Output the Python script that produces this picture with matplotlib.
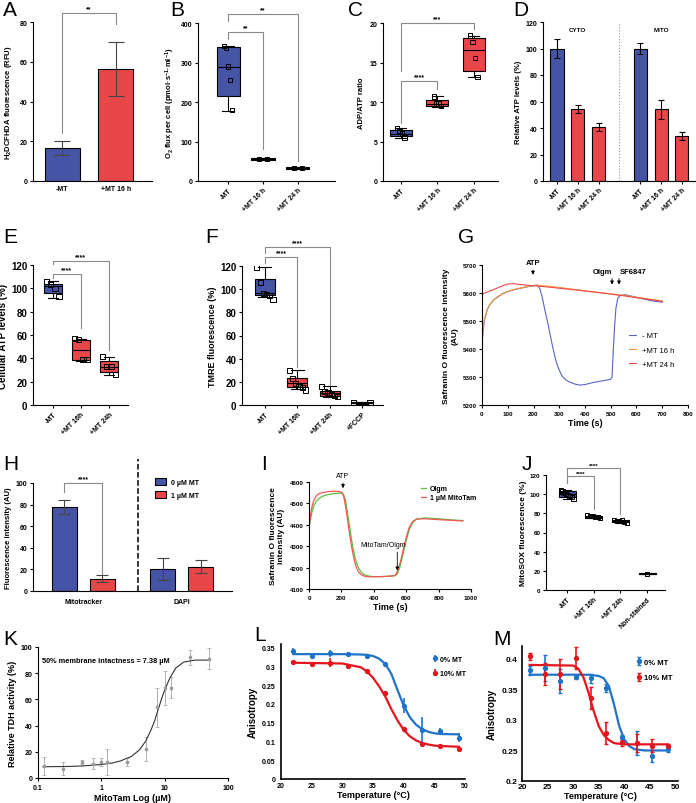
import numpy as np
import matplotlib.pyplot as plt
from matplotlib.ticker import FuncFormatter, NullLocator
from matplotlib.patches import Patch

plt.rcParams['font.family'] = ['Liberation Sans', 'DejaVu Sans']
plt.rcParams['font.weight'] = 'bold'
plt.rcParams['axes.labelweight'] = 'bold'
plt.rcParams['mathtext.default'] = 'regular'
plt.rcParams['axes.linewidth'] = 0.8

BLUE = '#4654a6'
RED = '#e8474a'

# ---- A: H2DCFHDA fluorescence
A_groups = ['-MT', '+MT 16 h']
A_mean = [16.5, 56.5]
A_err = [3.5, 13.5]

# ---- B: O2 flux boxes (q1, med, q3, whislo, whishi)
B_groups = ['-MT', '+MT 16 h', '+MT 24 h']
B_stats = [(215, 288, 338, 178, 341), (53, 55, 57, 53, 57), (31, 33, 35, 31, 35)]
B_points = [[342, 337, 290, 256, 180], [55, 55], [33, 33]]

# ---- C: ADP/ATP ratio
C_groups = ['-MT', '+MT 16 h', '+MT 24 h']
C_stats = [(5.7, 6.0, 6.5, 5.5, 6.7), (9.5, 9.8, 10.3, 9.4, 10.7), (13.9, 16.6, 18.1, 13.2, 18.4)]
C_points = [[6.7, 6.3, 6.0, 5.5], [10.7, 9.8, 9.8, 9.5], [18.4, 17.6, 15.6, 13.2]]

# ---- D: relative ATP levels
D_groups = ['-MT', '+MT 16 h', '+MT 24 h']
D_cyto = [100, 54, 41]
D_cyto_err = [7, 3, 3]
D_mito = [100, 54, 34]
D_mito_err = [4.5, 7, 3]

# ---- E: cellular ATP levels
E_groups = ['-MT', '+MT 16h', '+MT 24h']
E_stats = [(96, 102, 104, 92, 106), (38.5, 47, 56, 38, 57), (28, 32.7, 38, 26, 41.5)]
E_points = [[106, 103, 100, 93], [57, 56, 39, 39], [41.5, 32.7, 32.7, 26]]

# ---- F: TMRE fluorescence
F_groups = ['-MT', '+MT 16h', '+MT 24h', '+FCCP']
F_stats = [(95, 97, 108.5, 93, 119), (15.5, 19, 23.4, 14, 30), (8, 10, 12.3, 7, 16), (1.5, 2, 2.5, 1, 3)]
F_points = [[118.6, 105.7, 96.3, 95.7, 94.3, 91.4], [30, 22.9, 18.6, 16.3, 15.1, 12.9],
            [16, 12, 10.5, 9, 8, 7.5], [2, 2]]

# ---- G: safranin O traces
G_t_mt = [0, 5, 10, 20, 30, 45, 60, 80, 100, 125, 150, 175, 200, 215, 225, 235, 245, 255, 265, 275,
          285, 295, 310, 325, 340, 360, 380, 400, 430, 460, 490, 500, 505, 510, 515, 520, 527, 535,
          555, 575, 600, 630, 660, 700]
G_mt = [5420, 5470, 5505, 5540, 5558, 5575, 5585, 5597, 5605, 5612, 5617, 5622, 5626, 5628, 5615,
        5580, 5535, 5495, 5450, 5405, 5365, 5335, 5305, 5290, 5282, 5275, 5271, 5273, 5280, 5285,
        5290, 5292, 5300, 5400, 5480, 5545, 5580, 5590, 5594, 5590, 5585, 5578, 5572, 5567]
G_t_16 = [0, 5, 10, 20, 30, 45, 60, 80, 100, 125, 150, 175, 200, 215, 250, 300, 350, 400, 450,
          500, 550, 600, 650, 700]
G_16 = [5435, 5480, 5510, 5540, 5558, 5575, 5587, 5598, 5606, 5613, 5618, 5623, 5627, 5628, 5625,
        5620, 5614, 5608, 5602, 5597, 5592, 5585, 5578, 5572]
G_t_24 = [0, 10, 20, 30, 45, 60, 80, 100, 125, 150, 175, 200, 250, 300, 350, 400, 450, 500, 550,
          600, 650, 700]
G_24 = [5595, 5600, 5603, 5607, 5612, 5618, 5626, 5632, 5633, 5630, 5628, 5626, 5622, 5617, 5612,
        5607, 5602, 5596, 5590, 5583, 5577, 5570]

# ---- H: fluorescence intensity
H_groups = ['Mitotracker', 'DAPI']
H_mito = [78, 11.5]
H_mito_err = [6.5, 3]
H_dapi = [20.5, 22.5]
H_dapi_err = [10, 6]

# ---- I: safranin O traces
I_t = [0, 10, 20, 30, 45, 60, 80, 100, 130, 160, 190, 205, 215, 225, 235, 245, 255, 265, 275, 290,
       305, 320, 340, 370, 400, 450, 500, 530, 545, 560, 575, 590, 605, 620, 640, 660, 690, 720,
       760, 800, 850, 900, 950]
I_olgm = [4385, 4430, 4465, 4490, 4510, 4522, 4532, 4538, 4543, 4546, 4548, 4547, 4540, 4515, 4470,
          4420, 4370, 4320, 4280, 4230, 4200, 4180, 4167, 4160, 4158, 4158, 4160, 4162, 4170, 4200,
          4245, 4295, 4340, 4380, 4410, 4425, 4430, 4432, 4430, 4428, 4425, 4422, 4420]
I_mitotam = [4390, 4450, 4490, 4515, 4535, 4545, 4550, 4553, 4556, 4557, 4555, 4550, 4530, 4490,
             4440, 4385, 4335, 4290, 4250, 4205, 4180, 4168, 4160, 4157, 4157, 4158, 4160, 4163,
             4180, 4215, 4260, 4310, 4355, 4390, 4415, 4425, 4428, 4428, 4426, 4424, 4422, 4420, 4418]

# ---- J: MitoSOX fluorescence
J_groups = ['-MT', '+MT 16h', '+MT 24h', 'Non-stained']
J_stats = [(97.5, 100, 103, 95, 104), (75.5, 76.5, 77.5, 75, 78), (70.5, 72, 73, 70, 73.5), (16.5, 17, 17.5, 16.5, 17.5)]
J_points = [[104, 103, 101, 100, 99, 98, 97, 95], [78, 77, 77, 76, 76, 75],
            [73, 72, 72, 72.5, 71, 70], [17]]

# ---- K: TDH activity vs MitoTam
K_conc = [0.125, 0.25, 0.5, 0.75, 1, 1.25, 2.5, 5, 7.5, 10, 12.5, 25, 50]
K_act = [9, 7, 12.5, 11, 12.5, 12, 12, 22, 54, 69, 69, 92, 91]
K_err = [7, 5, 1.5, 4.5, 3, 10, 3, 9, 15, 13, 8, 6, 8]
K_fit_x = [0.12, 0.3, 0.5, 1, 1.5, 2, 3, 4, 5, 6, 7, 7.38, 8, 9, 10, 12, 15, 20, 30, 50]
K_fit_y = [8.6, 8.8, 9.2, 10.3, 11.5, 13, 16.5, 21.5, 28, 36, 44, 48, 53, 61, 67, 76, 84, 88.5, 90, 90]

# ---- L / M: anisotropy vs temperature
L_temp = [22, 25, 28, 31, 34, 37, 40, 43, 46, 49]
L_0 = [0.341, 0.328, 0.335, 0.333, 0.328, 0.307, 0.196, 0.131, 0.129, 0.110]
L_0_err = [0.008, 0.005, 0.010, 0.006, 0.006, 0.004, 0.020, 0.035, 0.008, 0.012]
L_10 = [0.312, 0.307, 0.310, 0.302, 0.288, 0.230, 0.134, 0.094, 0.087, 0.080]
L_10_err = [0.004, 0.003, 0.012, 0.005, 0.004, 0.005, 0.005, 0.005, 0.003, 0.003]
L_fit_x = [22, 30, 33, 34, 35, 36, 37, 38, 39, 40, 41, 42, 43, 44, 45, 46, 49]
L_fit_0 = [0.333, 0.333, 0.332, 0.331, 0.328, 0.321, 0.307, 0.280, 0.237, 0.196, 0.165, 0.145,
           0.133, 0.126, 0.122, 0.120, 0.119]
L_fit_10 = [0.310, 0.308, 0.298, 0.287, 0.270, 0.247, 0.220, 0.186, 0.156, 0.131, 0.114, 0.103,
            0.096, 0.092, 0.089, 0.088, 0.086]

M_temp = [21.5, 24.5, 27.5, 30.5, 33.5, 36.5, 39.5, 42.5, 45.5, 48.5]
M_0 = [0.381, 0.385, 0.364, 0.370, 0.368, 0.352, 0.272, 0.262, 0.241, 0.252]
M_0_err = [0.008, 0.022, 0.020, 0.003, 0.007, 0.006, 0.004, 0.020, 0.010, 0.004]
M_10 = [0.404, 0.375, 0.375, 0.402, 0.336, 0.278, 0.264, 0.262, 0.258, 0.257]
M_10_err = [0.006, 0.018, 0.025, 0.018, 0.018, 0.018, 0.006, 0.015, 0.010, 0.004]
M_fit_x = [21.5, 30, 31, 32, 33, 34, 35, 36, 37, 38, 39, 40, 41, 42, 44, 48.5]
M_fit_0 = [0.374, 0.374, 0.374, 0.374, 0.374, 0.373, 0.372, 0.368, 0.355, 0.325, 0.290, 0.268,
           0.257, 0.252, 0.250, 0.250]
M_fit_10 = [0.390, 0.389, 0.384, 0.370, 0.345, 0.315, 0.290, 0.275, 0.267, 0.262, 0.261, 0.260,
            0.260, 0.260, 0.260, 0.260]

W, H = 696, 804
fig = plt.figure(figsize=(W / 100, H / 100), dpi=100)


def panel(l, t, r, b, size=5):
    ax = fig.add_axes([l / W, 1 - b / H, (r - l) / W, (b - t) / H])
    ax.spines[['top', 'right']].set_visible(False)
    ax.tick_params(labelsize=size, width=0.8, length=2.5, pad=1.5)
    return ax


def letter(x, y, s):
    fig.text(x / W, 1 - y / H, s, fontsize=15, fontweight='normal', va='baseline', ha='left')


def bracket(ax, x1, x2, y, y1, y2, text='****', size=5):
    ax.plot([x1, x1, x2, x2], [y1, y, y, y2], color='#8a8a8a', lw=0.8, clip_on=False)
    ax.annotate(text, xy=((x1 + x2) / 2, y), xytext=(0, 0.3), textcoords='offset points',
                ha='center', va='bottom', fontsize=size, annotation_clip=False)


def boxes(ax, stats, points, colors, width, capw, spread, msize=10):
    st = [dict(q1=a, med=m, q3=b, whislo=lo, whishi=hi, fliers=[]) for a, m, b, lo, hi in stats]
    pos = list(range(len(stats)))
    art = ax.bxp(st, positions=pos, widths=width, patch_artist=True, showfliers=False,
                 capwidths=capw, manage_ticks=False,
                 boxprops=dict(lw=0.8, edgecolor='black'),
                 medianprops=dict(color='black', lw=0.8),
                 whiskerprops=dict(color='black', lw=0.8),
                 capprops=dict(color='black', lw=0.8))
    for patch, c in zip(art['boxes'], colors):
        patch.set_facecolor(c)
    for i, pts in enumerate(points):
        n = len(pts)
        off = np.linspace(-spread, spread, n) if n > 1 else np.zeros(1)
        ax.scatter(i + off, pts, marker='s', s=msize, facecolor='none', edgecolor='black',
                   lw=0.7, zorder=3)


def rot_labels(ax, labels, size):
    ax.set_xticks(range(len(labels)))
    ax.set_xticklabels(labels, rotation=45, ha='right', rotation_mode='anchor', fontsize=size)


# ================= A
ax = panel(33, 23, 152, 182)
ax.bar(range(2), A_mean, width=0.65, color=[BLUE, RED], edgecolor='black', lw=0.8)
ax.errorbar(range(2), A_mean, yerr=A_err, fmt='none', ecolor='#444444', elinewidth=0.8,
            capsize=6, capthick=0.8)
ax.set_xlim(-0.54, 1.67)
ax.set_ylim(0, 80)
ax.set_yticks(range(0, 81, 20))
ax.set_xticks(range(2))
ax.set_xticklabels(A_groups)
ax.tick_params(axis='x', length=0, pad=3)
ax.set_ylabel(r'H$_2$DCFHDA fluorescence (RFU)', fontsize=5.5, labelpad=4)
bracket(ax, 0, 1, 84.5, 24, 79, '**')
letter(3, 16, 'A')

# ================= B
ax = panel(198, 24, 335, 182)
boxes(ax, B_stats, B_points, [BLUE, RED, RED], 0.66, 0.35, 0.12)
ax.set_xlim(-0.86, 3.06)
ax.set_ylim(0, 400)
ax.set_yticks(range(0, 401, 100))
rot_labels(ax, B_groups, 5)
ax.set_ylabel(r'O$_2$ flux per cell (pmol·s$^{-1}$·ml$^{-1}$)', fontsize=5.5, labelpad=3)
bracket(ax, 0, 2, 423, 405, 50, '**')
bracket(ax, 0, 1, 377, 360, 81, '**')
letter(170, 16, 'B')

# ================= C
ax = panel(383, 24, 498, 182)
boxes(ax, C_stats, C_points, [BLUE, RED, RED], 0.6, 0.3, 0.1)
ax.set_xlim(-0.49, 2.66)
ax.set_ylim(0, 20)
ax.set_yticks(range(0, 21, 5))
rot_labels(ax, C_groups, 5)
ax.set_ylabel('ADP/ATP ratio', fontsize=5.5, labelpad=3)
bracket(ax, 0, 2, 20, 13.9, 19.3, '***')
bracket(ax, 0, 1, 12.7, 7.4, 11.6, '****')
letter(348, 16, 'C')

# ================= D
ax = panel(543, 23, 695, 182)
dpos = [0, 1, 2, 4, 5, 6]
dvals = D_cyto + D_mito
derr = D_cyto_err + D_mito_err
ax.bar(dpos, dvals, width=0.63, color=[BLUE, RED, RED] * 2, edgecolor='black', lw=0.8)
ax.errorbar(dpos, dvals, yerr=derr, fmt='none', ecolor='black', elinewidth=0.8, capsize=2.5,
            capthick=0.8)
ax.axvline(3.0, color='#999999', ls=':', lw=0.8)
ax.set_xlim(-0.67, 6.63)
ax.set_ylim(0, 120)
ax.set_yticks(range(0, 121, 20))
ax.set_xticks(dpos)
ax.set_xticklabels(D_groups * 2, rotation=45, ha='right', rotation_mode='anchor', fontsize=5)
ax.set_ylabel('Relative ATP levels (%)', fontsize=5.5, labelpad=3)
ax.text(1, 113, 'CYTO', ha='center', fontsize=4.5)
ax.text(5, 113, 'MITO', ha='center', fontsize=4.5)
letter(513, 16, 'D')

# ================= E
ax = panel(33, 266, 128, 406, size=7)
boxes(ax, E_stats, E_points, [BLUE, RED, RED], 0.64, 0.35, 0.22, msize=14)
ax.set_xlim(-0.71, 2.68)
ax.set_ylim(0, 120)
ax.set_yticks(range(0, 121, 20))
rot_labels(ax, E_groups, 5)
ax.set_ylabel('Cellular ATP levels (%)', fontsize=7, labelpad=2)
bracket(ax, 0, 2, 123.4, 120.6, 47)
bracket(ax, 0, 1, 112.7, 109, 65.6)
letter(3, 243, 'E')

# ================= F
ax = panel(242, 267, 383, 406, size=7)
boxes(ax, F_stats, F_points, [BLUE, RED, RED, 'black'], 0.62, 0.4, 0.25, msize=14)
ax.set_xlim(-0.71, 3.65)
ax.set_ylim(0, 120)
ax.set_yticks(range(0, 121, 20))
rot_labels(ax, F_groups, 5)
ax.set_ylabel('TMRE fluorescence (%)', fontsize=6.5, labelpad=2)
bracket(ax, 0, 2, 136.6, 131.4, 17.1)
bracket(ax, 0, 1, 128, 122.9, 32.9)
letter(205, 243, 'F')

# ================= G
ax = panel(482, 266, 688, 406, size=4.5)
ax.plot(G_t_mt, G_mt, color='#5a64c4', lw=0.8, label='- MT')
ax.plot(G_t_16, G_16, color='#f59a3c', lw=0.8, label='+MT 16 h')
ax.plot(G_t_24, G_24, color='#f04848', lw=0.8, label='+MT 24 h')
ax.set_xlim(0, 800)
ax.set_ylim(5200, 5700)
ax.set_xticks(range(0, 801, 100))
ax.set_yticks(range(5200, 5701, 100))
ax.set_xlabel('Time (s)', fontsize=6.5, labelpad=2)
ax.set_ylabel('Safranin O fluorescence intensity\n(AU)', fontsize=6, labelpad=3)
for t, y0, y1, lab, tx in [(198, 5692, 5655, 'ATP', 198), (505, 5662, 5620, 'Olgm', 468),
                           (532, 5662, 5620, 'SF6847', 585)]:
    ax.annotate('', xy=(t, y1), xytext=(t, y0), arrowprops=dict(arrowstyle='-|>', lw=0.6,
                color='black', mutation_scale=5), annotation_clip=False)
    ax.text(tx, y0 + 4, lab, ha='center', va='bottom', fontsize=5.5, clip_on=False)
ax.legend(loc='upper left', bbox_to_anchor=(0.68, 0.57), frameon=False,
          handlelength=0.9, labelspacing=0.9, prop=dict(weight='normal', size=5.5))
letter(458, 243, 'G')

# ================= H
ax = panel(33, 484, 232, 592)
hpos = [0, 1, 2.6, 3.6]
hvals = H_mito + H_dapi
herr = H_mito_err + H_dapi_err
ax.bar(hpos, hvals, width=0.66, color=[BLUE, RED, BLUE, RED], edgecolor='black', lw=0.8)
ax.errorbar(hpos, hvals, yerr=herr, fmt='none', ecolor='#444444', elinewidth=0.8, capsize=4,
            capthick=0.8)
ax.plot([1.95, 1.95], [0, 122], color='black', ls='--', lw=1.1, clip_on=False)
ax.set_xlim(-0.82, 4.42)
ax.set_ylim(0, 100)
ax.set_yticks(range(0, 101, 20))
ax.set_xticks([0.5, 3.1])
ax.set_xticklabels(H_groups)
ax.tick_params(axis='x', length=0, pad=5)
ax.set_ylabel('Fluorescence intensity (AU)', fontsize=5.5, labelpad=3)
bracket(ax, 0, 1, 100, 92, 16)
ax.legend(handles=[Patch(facecolor=BLUE, edgecolor='black', lw=0.8, label='0 µM MT'),
                   Patch(facecolor=RED, edgecolor='black', lw=0.8, label='1 µM MT')],
          loc='upper left', bbox_to_anchor=(0.58, 1.1), frameon=False, fontsize=5,
          handlelength=1.6, handleheight=1.0, labelspacing=0.8)
letter(3, 470, 'H')

# ================= I
ax = panel(309, 483, 471, 590, size=4.5)
ax.plot(I_t, I_olgm, color='#5cc040', lw=0.9, label='Olgm')
ax.plot(I_t, I_mitotam, color='#f25555', lw=0.9, label='1 µM MitoTam')
ax.set_xlim(0, 1000)
ax.set_ylim(4100, 4600)
ax.set_xticks(range(0, 1001, 200))
ax.set_yticks(range(4100, 4601, 100))
ax.set_xlabel('Time (s)', fontsize=6.5, labelpad=2)
ax.set_ylabel('Safranin O fluorescence\nintensity (AU)', fontsize=6, labelpad=3)
ax.annotate('', xy=(210, 4558), xytext=(210, 4608), arrowprops=dict(arrowstyle='-|>', lw=0.6,
            color='black', mutation_scale=5), annotation_clip=False)
ax.text(210, 4612, 'ATP', ha='center', va='bottom', fontsize=5, fontweight='normal')
ax.annotate('', xy=(545, 4173), xytext=(545, 4285), arrowprops=dict(arrowstyle='-|>', lw=0.6,
            color='black', mutation_scale=5))
ax.text(460, 4290, 'MitoTam/Olgm', ha='center', va='bottom', fontsize=5, fontweight='normal')
ax.legend(loc='upper left', bbox_to_anchor=(0.65, 1.03), frameon=False, fontsize=5,
          handlelength=0.8, labelspacing=0.35, handletextpad=0.5)
letter(261, 470, 'I')

# ================= J
ax = panel(546, 476, 665, 591, size=4.5)
boxes(ax, J_stats, J_points, [BLUE, RED, RED, 'black'], 0.64, 0.3, 0.24, msize=9)
ax.set_xlim(-0.79, 3.67)
ax.set_ylim(0, 120)
ax.set_yticks(range(0, 121, 20))
rot_labels(ax, J_groups, 5)
ax.set_ylabel('MitoSOX fluorescence (%)', fontsize=6, labelpad=2)
bracket(ax, 0, 2, 127, 112, 79, size=4.5)
bracket(ax, 0, 1, 119, 112, 85, size=4.5)
letter(522, 470, 'J')

# ================= K
ax = panel(38, 648, 228, 779, size=5)
ax.set_xscale('log')
ax.errorbar(K_conc, K_act, yerr=K_err, fmt='s', ms=1.6, color='#9a9a9a', ecolor='#b0b0b0',
            elinewidth=0.7, capsize=1.5, capthick=0.6)
ax.plot(K_fit_x, K_fit_y, color='#333333', lw=0.8)
ax.set_xlim(0.1, 100)
ax.set_ylim(0, 100)
ax.set_yticks(range(0, 101, 20))
ax.set_xticks([0.1, 1, 10, 100])
ax.xaxis.set_major_formatter(FuncFormatter(lambda v, p: f'{v:g}'))
ax.xaxis.set_minor_locator(NullLocator())
ax.set_xlabel('MitoTam Log (µM)', fontsize=6.5, labelpad=2)
ax.set_ylabel('Relative TDH activity (%)', fontsize=6.5, labelpad=3)
ax.text(0.02, 0.9, '50% membrane intactness = 7.38 µM', transform=ax.transAxes,
        ha='left', va='center', fontsize=5.3)
letter(3, 645, 'K')

# ================= L
fmt = FuncFormatter(lambda v, p: f'{v:g}')
ax = panel(281, 645, 465, 780, size=5)
ax.spines[['left', 'bottom']].set_linewidth(1.2)
ax.plot(L_fit_x, L_fit_0, color='#1f74c9', lw=1.6)
ax.plot(L_fit_x, L_fit_10, color='#e3161b', lw=1.6)
ax.errorbar(L_temp, L_0, yerr=L_0_err, fmt='o', ms=2.8, color='#1f74c9', elinewidth=1.2,
            capsize=0, label='0% MT')
ax.errorbar(L_temp, L_10, yerr=L_10_err, fmt='o', ms=2.8, color='#e3161b', elinewidth=1.2,
            capsize=0, label='10% MT')
ax.set_xlim(20, 50)
ax.set_ylim(0, 0.36)
ax.set_yticks(np.arange(0, 0.351, 0.05))
ax.yaxis.set_major_formatter(fmt)
ax.tick_params(length=0)
ax.tick_params(axis='y', pad=4)
ax.tick_params(axis='x', pad=2.5)
ax.set_xlabel('Temperature (°C)', fontsize=6.5, labelpad=0.5)
ax.set_ylabel('Anisotropy', fontsize=7, labelpad=3)
ax.legend(loc='upper left', bbox_to_anchor=(0.79, 0.96), frameon=False, fontsize=5,
          handlelength=0.6, handletextpad=0.4, labelspacing=1.1)
letter(254, 641, 'L')

# ================= M
ax = panel(522, 647, 678, 782, size=6)
ax.spines[['left', 'bottom']].set_linewidth(1.2)
ax.plot(M_fit_x, M_fit_0, color='#1f74c9', lw=1.6)
ax.plot(M_fit_x, M_fit_10, color='#e3161b', lw=1.6)
ax.errorbar(M_temp, M_0, yerr=M_0_err, fmt='o', ms=2.8, color='#1f74c9', elinewidth=1.2,
            capsize=1.5, label='0% MT')
ax.errorbar(M_temp, M_10, yerr=M_10_err, fmt='o', ms=2.8, color='#e3161b', elinewidth=1.2,
            capsize=1.5, label='10% MT')
ax.set_xlim(20, 50.5)
ax.set_ylim(0.2, 0.421)
ax.set_yticks(np.arange(0.2, 0.401, 0.05))
ax.set_xticks(range(20, 51, 5))
ax.yaxis.set_major_formatter(fmt)
ax.tick_params(length=0)
ax.tick_params(axis='y', pad=3)
ax.tick_params(axis='x', pad=1.5)
ax.set_xlabel('Temperature (°C)', fontsize=6.5, labelpad=0.5)
ax.set_ylabel('Anisotropy', fontsize=7, labelpad=3)
ax.legend(loc='upper left', bbox_to_anchor=(0.69, 0.96), frameon=False, fontsize=5.5,
          handlelength=0.6, handletextpad=0.4, labelspacing=1.1)
letter(493, 645, 'M')

fig.savefig('out.png', dpi=100)
